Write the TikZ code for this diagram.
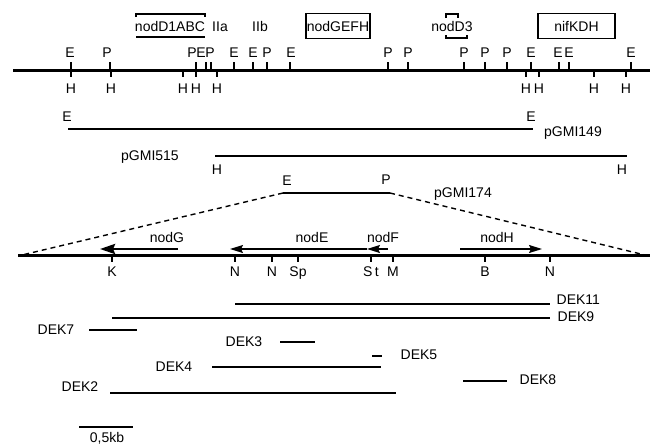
\documentclass[tikz,border=0pt]{standalone}
\usepackage{fontspec}
\setmainfont{Liberation Sans}
\usetikzlibrary{arrows.meta}

\tikzset{
  lbl/.style={font=\fontsize{14}{16}\selectfont, inner sep=0pt, anchor=base},
  genebox/.style={draw, line width=1.3pt, font=\fontsize{14}{16}\selectfont,
    inner sep=0pt, minimum height=25pt},
  mapline/.style={line width=3pt},
  cloneline/.style={line width=2.6pt},
  thinline/.style={line width=1.4pt},
  site/.style={line width=2pt},
}

\begin{document}
\begin{tikzpicture}[x=1pt,y=-1pt,>={Stealth[length=13pt,width=8pt,inset=2pt]}]
\useasboundingbox (0,0) rectangle (656,445);

% restriction map, sites above (E, P) and below (H)
\draw[mapline] (13,70) coordinate (ml) -- (650,70) coordinate (mr);
\foreach \x/\lx/\s [count=\i] in {71/70/E,110/107/P,196/192/P,206/201/E,211/210/P,
    234/234/E,253/253/E,267/267/P,290/291/E,388/388/P,408/408/P,464/464/P,
    485/485/P,507/507/P,531/531/E,559/558/E,569/569/E,631/631/E}
  \draw[site] (\x,70) -- (\x,62) node[lbl] (up\i) at (\lx,57) {\s};
\foreach \x [count=\i] in {71,111,183,196,217,526,539,594,626}
  \draw[site] (\x,70) -- (\x,77) node[lbl] (dn\i) at (\x,93) {H};

% genes on the map
\node[lbl] (d1abc) at (170,31) {nodD1ABC};
\draw[thinline] (136,17) -- (136,14) -- (205,14) -- (205,17);
\draw[thinline] (136,37) -- (205,37);
\node[lbl] (iia) at (220,31) {IIa};
\node[lbl] (iib) at (260,31) {IIb};
\node[genebox, minimum width=64pt] (gefh) at (338,26) {nodGEFH};
\node[lbl] (d3) at (452,31) {nodD3};
\draw[thinline] (446,18) -- (446,14) -- (458,14) -- (458,18);
\draw[thinline] (446,35) -- (446,38) -- (467,38) -- (467,35);
\node[genebox, minimum width=77pt] (kdh) at (576.5,26) {nifKDH};

% clones
\draw[cloneline] (68,129) coordinate (c149l) -- (533,129) coordinate (c149r);
\node[lbl] (e149l) at (67,121) {E};
\node[lbl] (e149r) at (531,121) {E};
\node[lbl, anchor=base west] (p149) at (544,136) {pGMI149};
\draw[cloneline] (215,156) coordinate (c515l) -- (627,156) coordinate (c515r);
\node[lbl, anchor=base west] (p515) at (121,160) {pGMI515};
\node[lbl] (h515l) at (217,174) {H};
\node[lbl] (h515r) at (622,174) {H};
\draw[cloneline] (283,193) coordinate (c174l) -- (390,193) coordinate (c174r);
\node[lbl] (e174) at (287,185) {E};
\node[lbl] (p174r) at (386,184) {P};
\node[lbl, anchor=base west] (p174) at (434,197) {pGMI174};

% enlarged region
\draw[mapline] (18,255) coordinate (zl) -- (650,255) coordinate (zr);
\coordinate (zle) at (22,255);
\coordinate (zre) at (645,255);
\draw[thinline, dash pattern=on 5pt off 4pt] (c174l) -- (zle);
\draw[thinline, dash pattern=on 5pt off 4pt] (c174r) -- (zre);
\foreach \x/\s [count=\i] in {112/K,235/N,272/N,298/Sp,371/S\,t,393/M,485/B,550/N}
  \draw[site] (\x,255) -- (\x,262) node[lbl] (s\i) at (\x,276) {\s};

\draw[->, line width=2.8pt, >={Stealth[length=15pt,width=10pt,inset=2pt]}]
  (178,249) -- (100,249) node[lbl] (nodg) at (167,242) {nodG};
\draw[->, thinline] (367,249) -- (230,249) node[lbl] (node) at (312,242) {nodE};
\draw[->, thinline] (388,249) -- (367,249) node[lbl] (nodf) at (383,242) {nodF};
\draw[->, thinline] (460,249) -- (542,249) node[lbl] (nodh) at (497,242) {nodH};

% deletions
\foreach \a/\b/\y/\lx/\ly/\n in {235/550/304/556/304/DEK11, 112/550/318/557/321/DEK9,
    89/137/330/37/334/DEK7, 280/315/342/225/346/DEK3, 372/382/356/400/359/DEK5,
    212/381/367/155/371/DEK4, 463/507/381/519/384/DEK8, 110/396/393/61/391/DEK2}
  \draw[thinline] (\a,\y) -- (\b,\y) node[lbl, anchor=base west] (\n) at (\lx,\ly) {\n};

% scale
\draw[line width=2pt] (79,427) -- (133,427) node[lbl] (scale) at (107,442) {0,5kb};
\end{tikzpicture}
\end{document}
